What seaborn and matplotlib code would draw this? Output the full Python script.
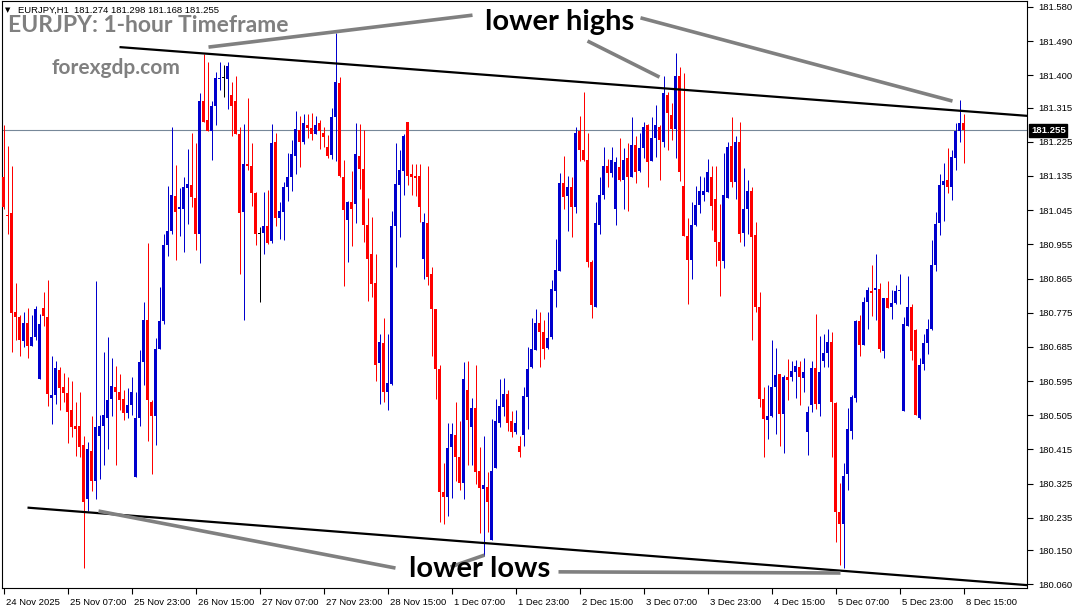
import numpy as np
import pandas as pd
import matplotlib
matplotlib.use("Agg")
import matplotlib.pyplot as plt
import matplotlib.transforms as mtransforms
import seaborn as sns

# ---------------- data (EURJPY H1, 24 Nov 15:00 -> 8 Dec 15:00) ----------------
open_ = [
 181.131,181.033,181.037,180.776,180.763,180.701,180.748,180.688,180.710,180.600,180.788,180.763,180.550,180.558,180.624,180.579,180.563,180.518,180.478,180.478,180.426,180.285,
 180.412,180.332,180.450,180.478,180.497,180.549,180.579,180.567,180.549,180.511,180.532,180.342,180.497,180.644,180.757,180.541,180.503,180.680,180.754,180.953,180.989,181.083,
 181.047,181.049,181.103,181.111,181.077,180.983,181.331,181.282,181.254,181.318,181.390,181.395,181.390,181.348,181.333,181.246,181.039,181.166,181.160,181.089,180.984,180.986,
 181.002,180.964,181.224,181.023,181.039,181.105,181.131,181.188,181.255,181.225,181.270,181.261,181.246,181.274,181.249,181.211,181.190,181.289,181.380,181.131,181.020,181.067,
 181.061,181.188,181.152,181.005,180.929,180.854,180.643,180.694,180.566,180.588,181.002,181.111,181.148,181.277,181.139,181.136,181.136,180.917,181.011,180.876,180.785,180.626,
 180.302,180.290,180.422,180.453,180.396,180.328,180.572,180.473,180.525,180.359,180.312,180.315,180.177,180.365,180.485,180.528,180.560,180.490,180.462,180.425,180.453,180.553,
 180.631,180.678,180.748,180.723,180.682,180.710,180.832,180.885,181.117,181.083,181.105,181.054,181.252,181.202,181.178,180.908,180.791,181.005,181.084,181.162,181.143,181.047,
 181.158,181.124,181.183,181.131,181.216,181.148,181.209,181.268,181.174,181.235,181.263,181.224,181.349,181.296,181.258,181.399,181.108,180.976,180.915,181.005,181.058,181.084,
 181.092,181.133,181.073,180.960,180.911,181.077,181.214,181.120,181.225,180.986,181.047,181.094,180.979,180.791,180.547,180.492,180.503,180.579,180.613,180.509,180.607,180.605,
 180.619,180.631,180.603,180.462,180.532,180.629,180.535,180.647,180.669,180.697,180.537,180.250,180.218,180.351,180.464,180.550,180.754,180.691,180.802,180.832,180.835,180.838,
 180.675,180.813,180.791,180.801,180.832,180.516,180.739,180.791,180.729,180.499,180.640,180.696,180.732,180.900,181.011,181.112,181.125,181.105,181.181,181.253,181.274]
high = [
 181.268,181.214,181.160,180.854,180.770,180.776,180.788,180.770,180.793,180.772,180.829,180.861,180.661,180.647,180.633,180.616,180.605,180.596,180.539,180.567,180.450,180.436,
 180.502,180.859,180.506,180.671,180.710,180.657,180.635,180.614,180.572,180.577,180.605,180.567,180.676,180.802,180.958,180.544,180.708,180.842,180.981,181.108,181.265,181.164,
 181.103,181.131,181.207,181.249,181.221,181.352,181.456,181.434,181.333,181.409,181.434,181.428,181.434,181.381,181.399,181.263,181.271,181.340,181.221,181.092,181.000,181.092,
 181.099,181.271,181.249,181.066,181.120,181.195,181.230,181.305,181.293,181.299,181.299,181.301,181.293,181.282,181.263,181.242,181.315,181.512,181.396,181.177,181.070,181.148,
 181.274,181.271,181.255,181.077,181.026,180.929,180.718,180.760,180.718,181.042,181.221,181.202,181.244,181.277,181.167,181.167,181.167,181.037,181.160,180.896,180.785,180.638,
 180.379,180.485,180.485,180.539,180.490,180.644,180.647,180.551,180.638,180.422,180.450,180.356,180.494,180.549,180.600,180.603,180.572,180.516,180.520,180.450,180.579,180.685,
 180.760,180.786,180.776,180.755,180.776,180.861,180.970,181.143,181.188,181.136,181.133,181.263,181.293,181.355,181.249,180.915,181.066,181.133,181.211,181.180,181.211,181.186,
 181.235,181.209,181.221,181.289,181.240,181.249,181.277,181.271,181.289,181.321,181.268,181.399,181.357,181.327,181.459,181.421,181.406,181.023,181.066,181.108,181.136,181.131,
 181.180,181.160,181.161,181.061,181.195,181.225,181.289,181.240,181.277,181.155,181.124,181.105,181.014,180.829,180.579,180.584,180.704,180.682,180.613,180.610,180.652,180.647,
 180.650,180.647,180.657,180.530,180.647,180.772,180.713,180.720,180.732,180.723,180.539,180.328,180.379,180.525,180.558,180.755,180.770,180.817,180.842,180.901,180.929,180.854,
 180.815,180.858,180.835,180.848,180.877,180.764,180.872,180.798,180.732,180.657,180.719,180.759,180.966,181.039,181.141,181.169,181.209,181.204,181.273,181.335,181.298]
low = [
 181.047,180.983,180.671,180.704,180.661,180.685,180.657,180.688,180.704,180.600,180.741,180.530,180.481,180.535,180.520,180.541,180.431,180.447,180.398,180.394,180.102,180.253,
 180.306,180.285,180.337,180.375,180.417,180.502,180.375,180.520,180.492,180.497,180.506,180.342,180.478,180.586,180.438,180.351,180.426,180.680,180.746,180.923,180.983,180.915,
 180.976,180.934,181.009,181.052,180.939,180.906,181.277,181.254,181.178,181.268,181.362,181.343,181.310,181.240,181.244,180.876,180.757,181.150,181.056,180.953,180.802,180.929,
 180.955,180.958,181.002,180.970,180.967,181.070,181.096,181.141,181.158,181.220,181.235,181.230,181.244,181.205,181.211,181.183,181.180,181.174,181.131,180.845,180.908,180.951,
 181.011,181.101,180.962,180.807,180.817,180.594,180.535,180.541,180.520,180.584,180.896,180.973,181.084,181.111,181.086,181.083,181.014,180.863,180.848,180.660,180.547,180.224,
 180.220,180.240,180.287,180.332,180.309,180.285,180.375,180.375,180.323,180.196,180.135,180.199,180.177,180.365,180.475,180.502,180.464,180.447,180.455,180.394,180.425,180.469,
 180.629,180.678,180.631,180.652,180.680,180.707,180.791,180.885,181.047,180.989,180.973,181.037,181.174,181.174,180.896,180.760,180.791,180.981,181.075,181.105,181.131,181.005,
 181.122,181.047,181.042,181.131,181.117,181.146,181.183,181.105,181.174,181.186,181.124,181.211,181.202,181.230,181.183,181.122,180.976,180.798,180.863,181.002,181.037,181.070,
 181.092,180.992,180.898,180.819,180.892,181.077,181.105,181.075,180.960,180.951,180.983,180.704,180.776,180.528,180.396,180.443,180.500,180.455,180.425,180.406,180.544,180.596,
 180.550,180.532,180.567,180.400,180.513,180.522,180.503,180.633,180.633,180.394,180.171,180.111,180.102,180.309,180.443,180.541,180.660,180.690,180.732,180.767,180.755,180.671,
 180.655,180.788,180.759,180.798,180.798,180.516,180.739,180.650,180.505,180.495,180.625,180.667,180.729,180.884,180.979,181.016,181.090,181.072,181.151,181.224,181.168]
close = [
 181.052,181.029,180.774,180.763,180.704,180.748,180.688,180.710,180.785,180.746,180.767,180.560,180.558,180.629,180.577,180.563,180.513,180.473,180.469,180.422,180.276,180.417,
 180.332,180.473,180.478,180.506,180.544,180.582,180.567,180.544,180.511,180.532,180.567,180.497,180.644,180.757,180.544,180.503,180.680,180.754,180.953,180.990,181.084,181.040,
 181.052,181.105,181.113,181.080,180.983,181.331,181.277,181.254,181.318,181.393,181.393,181.395,181.423,181.319,181.246,181.037,181.166,181.160,181.089,180.981,180.984,181.002,
 180.958,181.221,181.023,181.042,181.105,181.131,181.192,181.258,181.224,181.274,181.261,181.246,181.270,181.252,181.237,181.188,181.289,181.383,181.136,181.045,181.067,181.049,
 181.193,181.152,181.005,180.917,180.851,180.638,180.697,180.567,180.591,181.002,181.113,181.150,181.240,181.136,181.133,181.130,181.052,181.014,180.870,180.785,180.626,180.302,
 180.290,180.419,180.455,180.396,180.328,180.600,180.492,180.525,180.356,180.314,180.321,180.276,180.359,180.490,180.530,180.560,180.485,180.462,180.485,180.408,180.556,180.626,
 180.680,180.748,180.723,180.680,180.708,180.838,180.887,181.117,181.080,181.105,181.054,181.249,181.202,181.177,180.908,180.795,181.011,181.084,181.160,181.143,181.178,181.171,
 181.124,181.178,181.131,181.216,181.146,181.209,181.265,181.171,181.235,181.270,181.230,181.352,181.301,181.258,181.399,181.146,180.976,180.915,181.007,181.058,181.096,181.096,
 181.146,181.056,180.960,180.911,181.084,181.211,181.120,181.225,180.983,181.047,181.094,180.974,180.791,180.547,180.494,180.503,180.579,180.610,180.509,180.607,180.597,180.622,
 180.635,180.605,180.619,180.513,180.629,180.535,180.619,180.669,180.697,180.539,180.250,180.220,180.344,180.469,180.553,180.754,180.691,180.802,180.835,180.826,180.840,180.680,
 180.813,180.788,180.801,180.833,180.834,180.746,180.791,180.673,180.505,180.637,180.694,180.732,180.900,181.009,181.110,181.122,181.105,181.184,181.253,181.273,181.255]

# x tick labels (every 16 bars)
tick_bars = [0, 16, 32, 48, 64, 80, 96, 112, 128, 144, 160, 176, 192, 208, 224, 240]
tick_labels = ["24 Nov 2025", "25 Nov 07:00", "25 Nov 23:00", "26 Nov 15:00", "27 Nov 07:00",
               "27 Nov 23:00", "28 Nov 15:00", "1 Dec 07:00", "1 Dec 23:00", "2 Dec 15:00",
               "3 Dec 07:00", "3 Dec 23:00", "4 Dec 15:00", "5 Dec 07:00", "5 Dec 23:00",
               "8 Dec 15:00"]
price_ticks = [181.580, 181.490, 181.400, 181.315, 181.225, 181.135, 181.045, 180.955, 180.865,
               180.775, 180.685, 180.595, 180.505, 180.415, 180.325, 180.235, 180.150, 180.060]
last_price = 181.255

# channel lines (bar index, price)
upper_line_x = [29, 256]
upper_line_y = [181.474, 181.293]
lower_line_x = [6, 256]
lower_line_y = [180.262, 180.058]

# annotation pointer lines (bar index, price)
pointer_lines = [
    ([51.25, 117.25], [181.474, 181.558]),
    ([146.0, 164.0], [181.490, 181.395]),
    ([159.25, 237.25], [181.551, 181.332]),
    ([23.75, 98.0], [180.253, 180.103]),
    ([111.75, 120.25], [180.106, 180.137]),
    ([138.75, 209.25], [180.093, 180.090]),
]

# ---------------- figure ----------------
sns.set_theme(style="white")
plt.rcParams['font.family'] = ['Liberation Sans', 'DejaVu Sans']

W, H = 1074, 608
fig = plt.figure(figsize=(W / 100, H / 100), dpi=100)
fig.patch.set_facecolor("white")
ax = fig.add_axes([2 / W, 20 / H, 1025 / W, 587 / H])
ax.set_facecolor("white")

df = pd.DataFrame({"open": open_, "high": high, "low": low, "close": close})
df["bar"] = np.arange(len(df))
BLUE, RED = "#0000CD", "#FF0000"
cols = np.where(df["close"] > df["open"], BLUE, np.where(df["close"] < df["open"], RED, "#000000"))

min_h = 1.2 / 380
body_bottom = np.minimum(df["open"], df["close"]).to_numpy()
body_h = np.abs(df["close"] - df["open"]).to_numpy()
small = body_h < min_h
body_bottom = np.where(small, body_bottom - (min_h - body_h) / 2, body_bottom)
body_h = np.where(small, min_h, body_h)

ax.axhline(last_price, color="#778899", lw=0.8, zorder=1)

# wicks: 1 pixel wide (bar centres fall on pixel centres)
ax.vlines(df["bar"], df["low"], df["high"], colors=cols, lw=0.72, zorder=3)
# bodies: 3 pixels wide
ax.bar(df["bar"], body_h, bottom=body_bottom, width=0.75, color=cols, linewidth=0, zorder=4)

ax.plot(upper_line_x, upper_line_y, color="black", lw=1.6, solid_capstyle="butt", zorder=5)
ax.plot(lower_line_x, lower_line_y, color="black", lw=1.6, solid_capstyle="butt", zorder=5)
for xs, ys in pointer_lines:
    ax.plot(xs, ys, color="#808080", lw=2.6, solid_capstyle="butt", zorder=6)

ax.set_xlim(-0.375, 255.875)
ax.set_ylim(180.0505, 181.5953)

# axes styling
for sp in ax.spines.values():
    sp.set_color("black")
    sp.set_linewidth(0.8)
ax.yaxis.tick_right()
ax.set_yticks(price_ticks)
ax.set_yticklabels([f"{v:.3f}" for v in price_ticks])
ax.set_xticks(tick_bars)
ax.set_xticklabels(tick_labels, ha="left")
ax.tick_params(axis="both", which="both", direction="out", length=4, width=0.8,
               color="black", labelsize=6.8, labelcolor="black")
ax.tick_params(axis="y", pad=4)
ax.tick_params(axis="x", pad=3, bottom=True)
offset = mtransforms.ScaledTranslation(2 / 100, 0, fig.dpi_scale_trans)
for lab in ax.get_xticklabels():
    lab.set_transform(lab.get_transform() + offset)
ax.grid(False)

# current price label
trans = mtransforms.blended_transform_factory(ax.transAxes, ax.transData)
ax.text(1.0 + 4 / 1025, last_price, f"{last_price:.3f}", transform=trans, ha="left", va="center",
        fontsize=6.8, color="white", fontweight="bold", zorder=10,
        bbox=dict(boxstyle="square,pad=0.18", fc="black", ec="black"), clip_on=False)

# header / titles
fig.text(5 / W, 1 - 10.5 / H, "\u25bc", fontsize=5, family="DejaVu Sans", va="center", color="black")
fig.text(18 / W, 1 - 10 / H, "EURJPY,H1  181.274 181.298 181.168 181.255", fontsize=6.8,
         va="center", color="black")
fig.text(8 / W, 1 - 32 / H, "EURJPY: 1-hour Timeframe", fontsize=16.5, family="Lato",
         fontweight="bold", color="#808080", va="baseline")
fig.text(52 / W, 1 - 73.5 / H, "forexgdp.com", fontsize=15, family="Lato",
         fontweight="bold", color="#808080", va="baseline")
fig.text(560 / W, 1 - 30 / H, "lower highs", fontsize=21, family="Lato",
         fontweight="bold", color="black", ha="center", va="baseline")
fig.text(480 / W, 1 - 577 / H, "lower lows", fontsize=21, family="Lato",
         fontweight="bold", color="black", ha="center", va="baseline")

fig.savefig("out.png", dpi=100, facecolor="white")
